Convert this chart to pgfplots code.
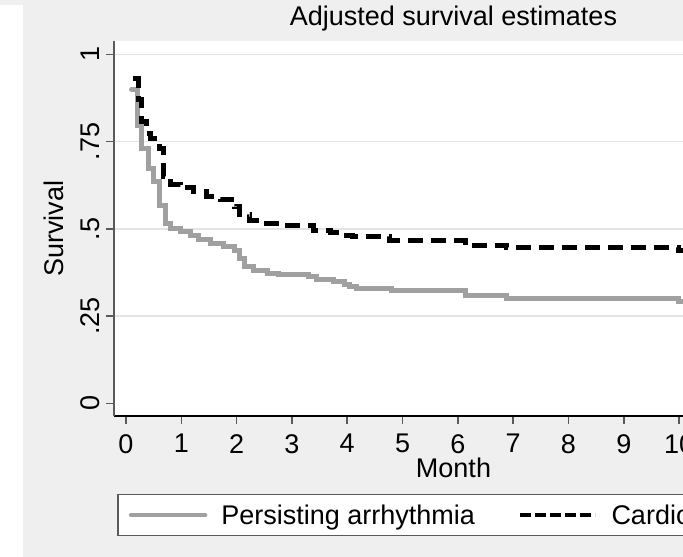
\documentclass[border=0pt]{standalone}
\usepackage{fontspec}
\setmainfont{Liberation Sans}
\usepackage{pgfplots}
\pgfplotsset{compat=1.18}

\definecolor{bggray}{HTML}{EFEFEF}
\definecolor{curvegray}{HTML}{A0A0A0}
\definecolor{gridgray}{HTML}{E4E4E4}
\definecolor{axisgray}{HTML}{5A5A5A}

\newcommand{\bigfont}{\fontsize{27pt}{32pt}\selectfont}
\newcommand{\tickfont}{\fontsize{27pt}{30pt}\selectfont}

% Adjusted Kaplan-Meier type estimates (step functions)
\pgfplotstableread{
month surv
0.10 0.900
0.20 0.797
0.28 0.730
0.40 0.673
0.49 0.635
0.61 0.568
0.72 0.516
0.80 0.501
0.98 0.492
1.16 0.482
1.31 0.468
1.52 0.458
1.76 0.449
1.97 0.437
2.06 0.415
2.15 0.392
2.30 0.380
2.55 0.372
2.75 0.368
3.30 0.362
3.45 0.356
3.75 0.350
3.95 0.340
4.05 0.336
4.17 0.330
4.80 0.322
6.13 0.308
6.88 0.301
9.99 0.291
12.00 0.291
}\persisting

\pgfplotstableread{
month surv
0.13 0.931
0.22 0.869
0.28 0.807
0.37 0.774
0.45 0.759
0.61 0.731
0.67 0.649
0.80 0.628
0.98 0.619
1.22 0.606
1.46 0.592
1.70 0.583
1.97 0.563
2.06 0.540
2.24 0.525
2.54 0.514
2.78 0.509
3.39 0.495
3.70 0.488
3.93 0.482
4.10 0.478
4.77 0.466
6.13 0.452
6.88 0.446
9.99 0.439
12.00 0.439
}\cardioversion

\begin{document}
\begin{tikzpicture}
\useasboundingbox (0,0) rectangle (683pt,557pt);
\clip (0,0) rectangle (683pt,557pt);
\fill[bggray] (0,0) rectangle (683pt,557pt);
\fill[white] (0,0) rectangle (23pt,552pt);
\begin{axis}[
  at={(114pt,141pt)}, anchor=south west,
  scale only axis, width=679pt, height=375pt,
  xmin=-0.217, xmax=12.06, ymin=-0.0364, ymax=1.038,
  axis background/.style={fill=white},
  axis x line*=bottom, axis y line*=left,
  x axis line style={-, black, line width=1.5pt},
  y axis line style={-, axisgray, line width=1.5pt},
  tick align=outside, major tick length=8pt,
  tick style={axisgray, line width=1.5pt},
  /pgf/number format/assume math mode=true,
  xtick={0,1,...,12},
  xticklabel style={font=\tickfont, inner sep=0pt, anchor=north},
  xticklabel shift=10pt,
  ytick={0.25,0.5,0.75,1}, yticklabels={.25,.5,.75,1},
  extra y ticks={0}, extra y tick labels={0},
  extra y tick style={grid=none},
  yticklabel style={font=\tickfont, inner sep=0pt, rotate=90, anchor=base},
  yticklabel shift=6.5pt,
  ymajorgrids, grid style={gridgray, line width=1.5pt},
  title={Adjusted survival estimates},
  title style={at={([yshift=9.3pt]axis description cs:0.5,1)}, anchor=base,
    inner sep=0pt, font=\bigfont},
  xlabel={Month},
  xlabel style={at={([yshift=-61.5pt]axis description cs:0.5,0)}, anchor=base,
    inner sep=0pt, font=\bigfont},
  ylabel={Survival},
  ylabel style={at={([xshift=-50pt]axis description cs:0,0.5)}, anchor=base,
    inner sep=0pt, font=\bigfont},
  legend columns=2,
  legend style={at={([yshift=-78pt]axis description cs:0.5,0)}, anchor=north,
    draw=axisgray, line width=1.3pt, fill=white,
    inner xsep=11pt, inner ysep=9.8pt,
    nodes={inner sep=0pt, font=\bigfont},
    /tikz/every even column/.append style={column sep=43pt},
    /tikz/every odd column/.append style={column sep=14pt}},
]
\addplot[const plot, curvegray, line width=5pt, line cap=round,
  legend image code/.code={
    \draw[curvegray, line width=4.5pt] (0pt,0pt) -- (74pt,0pt);}]
  table[x=month, y=surv] {\persisting};
\addlegendentry{Persisting arrhythmia}
\addplot[const plot, black, line width=5pt, dash pattern=on 15pt off 8pt,
  legend image code/.code={
    \draw[black, line width=4.5pt, dash pattern=on 11pt off 4pt] (0pt,0pt) -- (75pt,0pt);}]
  table[x=month, y=surv] {\cardioversion};
\addlegendentry{Cardioversion}
\end{axis}
\end{tikzpicture}
\end{document}
